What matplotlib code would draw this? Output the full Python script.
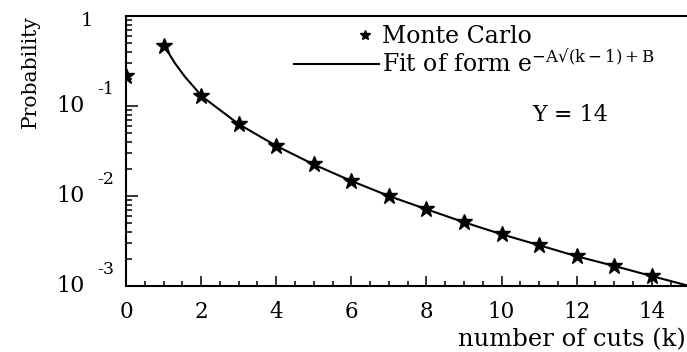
import matplotlib
matplotlib.use('Agg')
import matplotlib.pyplot as plt
from matplotlib.ticker import MultipleLocator, LogLocator, NullFormatter
from matplotlib.transforms import offset_copy
from matplotlib.lines import Line2D
from matplotlib.legend_handler import HandlerLine2D

# Monte Carlo points
k_mc = [0, 1, 2, 3, 4, 5, 6, 7, 8, 9, 10, 11, 12, 13, 14]
p_mc = [0.217, 0.467, 0.130, 0.0629, 0.0361, 0.0224, 0.0147, 0.0100,
        0.00713, 0.00511, 0.00376, 0.00284, 0.00214, 0.00167, 0.00129]

# fitted curve
fit_k = [1, 1.17, 1.3, 1.57, 1.84, 2, 3, 4, 5, 6, 7, 8, 9, 10, 11, 12, 13, 14, 15]
fit_p = [0.467, 0.368, 0.300, 0.211, 0.157, 0.130, 0.0629, 0.0361, 0.0224,
         0.0147, 0.0100, 0.00713, 0.00511, 0.00376, 0.00284, 0.00214,
         0.00167, 0.00129, 0.00100]

y_ticks  = [1e-3, 1e-2, 1e-1]
y_exps   = ['-3', '-2', '-1']
x_ticks  = [0, 2, 4, 6, 8, 10, 12, 14]


class HandlerMarkerRight(HandlerLine2D):
    # ROOT puts the legend marker near the right end of the handle box
    def get_xdata(self, legend, xdescent, ydescent, width, height, fontsize):
        xd = [-xdescent + 0.83 * width]
        return xd, xd


plt.rcParams['font.family'] = ['DejaVu Serif', 'DejaVu Sans']
plt.rcParams['mathtext.fontset'] = 'dejavuserif'

W, H = 687, 352
fig = plt.figure(figsize=(W / 100, H / 100), dpi=100)
ax  = fig.add_axes([126 / W, 1 - 286 / H, (689.3 - 126) / W, (286 - 16) / H])

ax.plot(fit_k, fit_p, color='black', lw=1.5)
ax.plot(k_mc, p_mc, ls='none', marker='*', ms=12, color='black')

ax.set_yscale('log')
ax.set_xlim(0, 15)
ax.set_ylim(1e-3, 1)

for s in ['left', 'bottom', 'top', 'right']:
    ax.spines[s].set_linewidth(1.5)

ax.set_xticks(x_ticks)
ax.set_xticklabels([str(v) for v in x_ticks])
ax.xaxis.set_minor_locator(MultipleLocator(0.5))
ax.tick_params(axis='x', which='major', direction='in', length=7.2, width=1.1,
               pad=11, labelsize=15.5)
ax.tick_params(axis='x', which='minor', direction='in', length=3.6, width=1.1)

ax.set_yticks(y_ticks + [1])
ax.set_yticklabels([''] * 4)
ax.yaxis.set_minor_locator(LogLocator(base=10, subs=range(2, 10)))
ax.yaxis.set_minor_formatter(NullFormatter())
ax.tick_params(axis='y', which='major', direction='in', length=8.6, width=1.1)
ax.tick_params(axis='y', which='minor', direction='in', length=4.3, width=1.1)

# ROOT-like "10^n" labels
ytr = ax.get_yaxis_transform()
for v, e in zip(y_ticks, y_exps):
    ax.text((85 - 126) / 563.3, v, '10', transform=ytr, ha='right', va='center', fontsize=16)
    ax.text((97 - 126) / 563.3, v, e, transform=offset_copy(ytr, fig, y=16, units='dots'),
            ha='left', va='center', fontsize=12.5)
ax.text((93 - 126) / 563.3, 1, '1', transform=offset_copy(ytr, fig, y=-5, units='dots'),
        ha='right', va='center', fontsize=14)

ax.set_ylabel('Probability', fontsize=14.6, loc='top')
ax.yaxis.set_label_coords((40 - 126) / 563.3, (286 - 15) / 270)
ax.set_xlabel('number of cuts (k)', fontsize=17.5, loc='right')
ax.xaxis.set_label_coords((686 - 126) / 563.3, (286 - 328) / 270)

mc_h  = Line2D([], [], ls='none', marker='*', ms=7, color='black')
fit_h = Line2D([], [], color='black', lw=1.5)
labels = ['Monte Carlo', 'Fit of form e$^{\\mathrm{-A\u221a(k-1)+B}}$']
ax.legend([mc_h, fit_h], labels, frameon=False, fontsize=17, loc='upper left',
          bbox_to_anchor=((294 - 126) / 563.3, (286 - 25) / 270),
          borderaxespad=0, borderpad=0, handlelength=3.6, handletextpad=0.12,
          labelspacing=0.1, handler_map={mc_h: HandlerMarkerRight()})

ax.text((570 - 126) / 563.3, (286 - 115) / 270, 'Y = 14', transform=ax.transAxes,
        ha='center', va='center', fontsize=16)

fig.savefig('out.png', dpi=100)
plt.close(fig)
